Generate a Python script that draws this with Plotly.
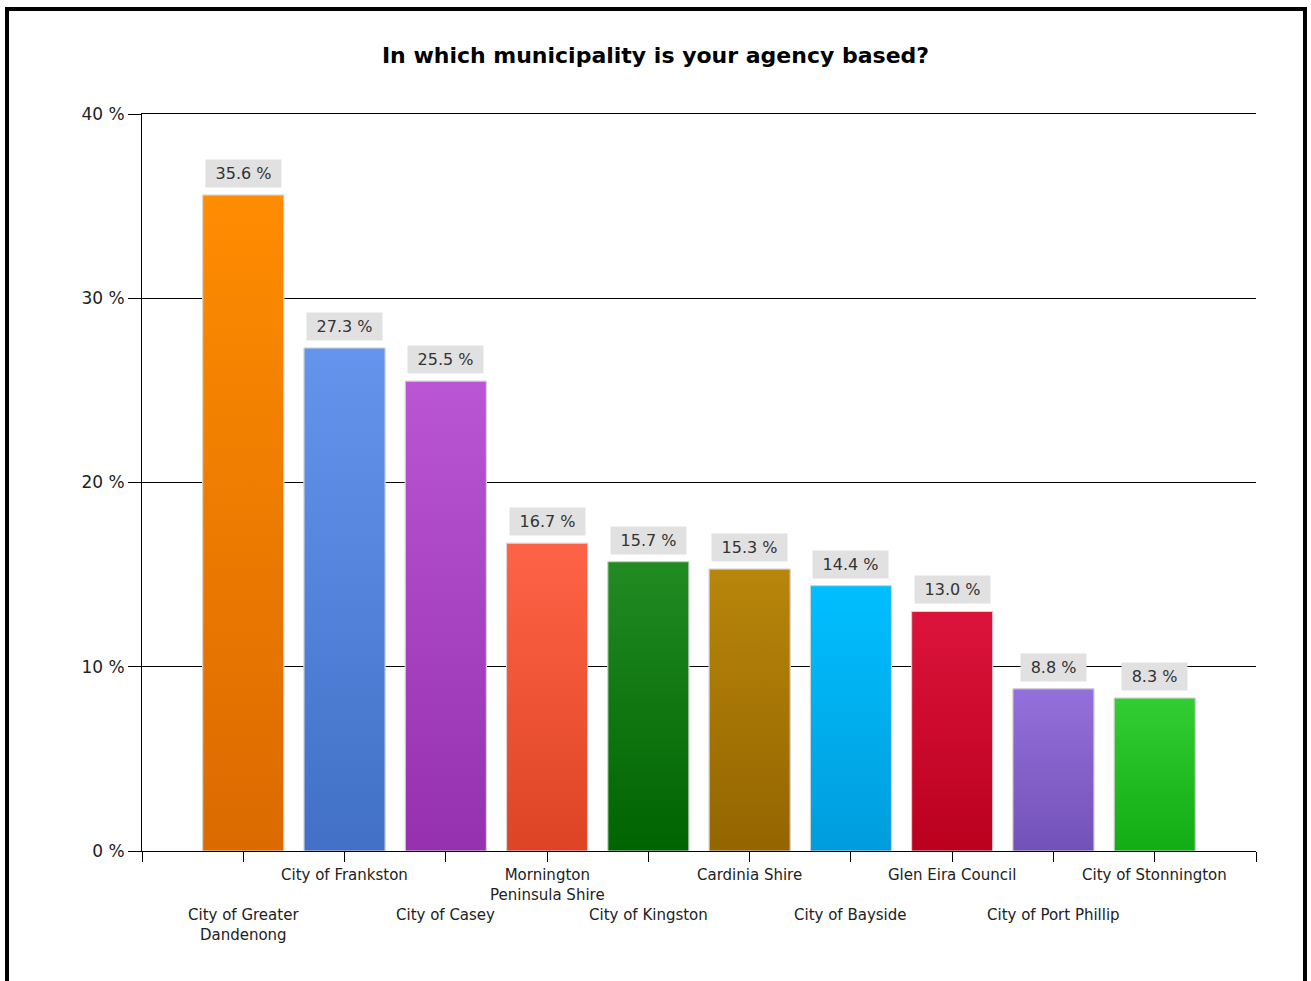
import plotly.graph_objects as go

# Survey results: share of agencies per municipality
categories = [
    "City of Greater<br>Dandenong",
    "City of Frankston",
    "City of Casey",
    "Mornington<br>Peninsula Shire",
    "City of Kingston",
    "Cardinia Shire",
    "City of Bayside",
    "Glen Eira Council",
    "City of Port Phillip",
    "City of Stonnington",
]
percent = [35.6, 27.3, 25.5, 16.7, 15.7, 15.3, 14.4, 13.0, 8.8, 8.3]

# gradient colours for each bar: top shade, bottom shade
top_colors = ["#FF8C00", "#6495ED", "#BA55D3", "#FF6347", "#228B22",
              "#B8860B", "#00BFFF", "#DC143C", "#9370DB", "#32CD32"]
bottom_colors = ["#DB6A00", "#4170C6", "#9530AF", "#DD4425", "#006400",
                 "#946500", "#009DDD", "#BA001E", "#7352B8", "#12AD14"]

y_ticks = [0, 10, 20, 30, 40]
y_tick_labels = ["0 %", "10 %", "20 %", "30 %", "40 %"]

W, H = 1311, 981
L, R, T, B = 142, 55, 114, 130
plot_w = W - L - R
plot_h = H - T - B

positions = list(range(1, len(categories) + 1))
bar_w = 0.8

fig = go.Figure()

# base bars
fig.add_trace(go.Bar(
    x=positions, y=percent, width=bar_w,
    marker=dict(color=bottom_colors, line=dict(color="#d8d8d8", width=1)),
    hoverinfo="skip", showlegend=False,
))

# vertical gradient overlay on each bar
for pos, val, c_top, c_bot in zip(positions, percent, top_colors, bottom_colors):
    x0, x1 = pos - bar_w / 2, pos + bar_w / 2
    fig.add_trace(go.Scatter(
        x=[x0, x1, x1, x0, x0], y=[0, 0, val, val, 0],
        mode="lines", fill="toself",
        fillgradient=dict(type="vertical", colorscale=[[0, c_bot], [1, c_top]]),
        line=dict(color="#d8d8d8", width=1),
        hoverinfo="skip", showlegend=False,
    ))

annotations = []
# value labels in grey boxes
for pos, val in zip(positions, percent):
    txt = f"{val:.1f} %"
    annotations.append(dict(
        x=pos, y=val, xref="x", yref="y", text=txt, showarrow=False,
        yanchor="bottom", yshift=7,
        font=dict(family="DejaVu Sans", size=16, color="#333333"),
        bgcolor="#e1e1e1", borderpad=4, width=10 * len(txt) + 7, height=19,
    ))

# staggered category labels below the axis
for i, (pos, name) in enumerate(zip(positions, categories)):
    annotations.append(dict(
        x=pos, y=0, xref="x", yref="paper", text=name, showarrow=False,
        yanchor="top", yshift=-13 if i % 2 else -53,
        font=dict(family="DejaVu Sans", size=15, color="#222222"),
    ))

fig.update_layout(
    width=W, height=H,
    margin=dict(l=L, r=R, t=T, b=B, pad=0),
    paper_bgcolor="white", plot_bgcolor="white",
    title=dict(
        text="<b>In which municipality is your agency based?</b>",
        x=0.5, xref="container", xanchor="center",
        y=1 - 55 / H, yref="container", yanchor="middle",
        font=dict(family="DejaVu Sans", size=22, color="black"),
    ),
    xaxis=dict(
        range=[0, len(categories) + 1], tickvals=list(range(0, len(categories) + 2)),
        showticklabels=False, ticks="outside", ticklen=10, tickcolor="black",
        showline=True, linecolor="black", linewidth=1, mirror=True,
        showgrid=False, zeroline=False, fixedrange=True,
    ),
    yaxis=dict(
        range=[0, 40], tickvals=y_ticks, ticktext=y_tick_labels,
        ticks="outside", ticklen=13, tickcolor="black",
        tickfont=dict(family="DejaVu Sans", size=17, color="#222222"),
        showline=True, linecolor="black", linewidth=1,
        showgrid=True, gridcolor="black", gridwidth=1,
        zeroline=False, fixedrange=True,
    ),
    annotations=annotations,
    shapes=[dict(
        type="rect", xref="paper", yref="paper",
        x0=(7 - L) / plot_w, x1=(1305 - L) / plot_w,
        y0=(T + plot_h - 995) / plot_h, y1=(T + plot_h - 9) / plot_h,
        line=dict(color="black", width=4), fillcolor="rgba(0,0,0,0)",
        layer="above",
    )],
    bargap=0.2,
)

fig.write_html("out.html")
